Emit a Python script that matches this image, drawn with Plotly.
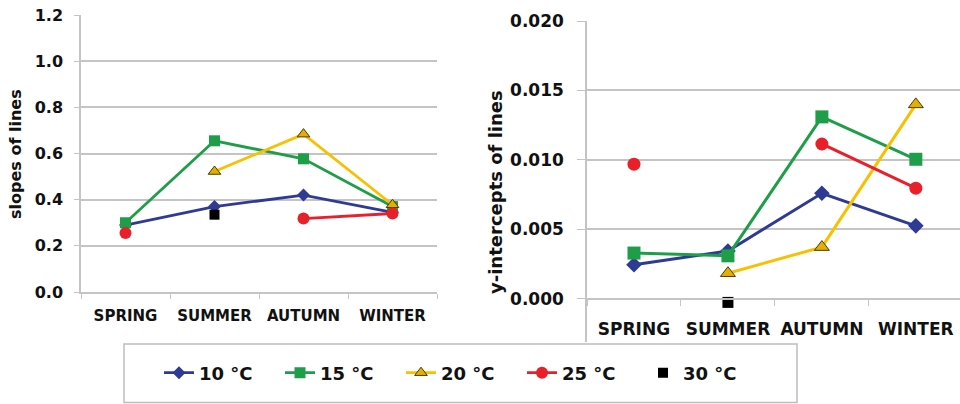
import plotly.graph_objects as go

seasons = ["SPRING", "SUMMER", "AUTUMN", "WINTER"]
series_names = ["10 °C", "15 °C", "20 °C", "25 °C", "30 °C"]

# slopes of lines (left panel)
slope_10 = [0.29, 0.37, 0.42, 0.345]
slope_15 = [0.30, 0.655, 0.577, 0.37]
slope_20 = [None, 0.522, 0.684, 0.378]
slope_25 = [0.256, None, 0.318, 0.34]
slope_30 = [None, 0.335, None, None]

# y-intercepts of lines (right panel)
icpt_10 = [0.00246, 0.00345, 0.0076, 0.00526]
icpt_15 = [0.0033, 0.0031, 0.0131, 0.01005]
icpt_20 = [None, 0.00185, 0.00373, 0.0140]
icpt_25 = [0.0097, None, 0.01115, 0.00797]
icpt_30 = [None, -0.00025, None, None]

colors = ["#2e3a94", "#1f9e4a", "#f7c100", "#e8202a", "#000000"]
symbols = ["diamond", "square", "triangle-up", "circle", "square"]

W, H = 960, 404
FONT = "DejaVu Sans"
GRID = "#c4c4c4"

fig = go.Figure()

left_sets = [slope_10, slope_15, slope_20, slope_25, slope_30]
right_sets = [icpt_10, icpt_15, icpt_20, icpt_25, icpt_30]
msz_l = [10, 11, 11, 12, 10]
msz_r = [12, 13, 13, 13, 11]

for i, name in enumerate(series_names):
    is_tri = symbols[i] == "triangle-up"
    mcol = "#e3af00" if is_tri else colors[i]
    mline = dict(color="#4a3c00", width=1) if is_tri else dict(width=0)
    mode = "markers" if i == 4 else "lines+markers"
    fig.add_trace(go.Scatter(
        x=seasons, y=left_sets[i], name=name, mode=mode,
        line=dict(color=colors[i], width=2.8),
        marker=dict(symbol=symbols[i], size=msz_l[i], color=mcol, line=mline),
        connectgaps=False, xaxis="x", yaxis="y", showlegend=True,
    ))
for i, name in enumerate(series_names):
    is_tri = symbols[i] == "triangle-up"
    mcol = "#e3af00" if is_tri else colors[i]
    mline = dict(color="#4a3c00", width=1) if is_tri else dict(width=0)
    mode = "markers" if i == 4 else "lines+markers"
    fig.add_trace(go.Scatter(
        x=seasons, y=right_sets[i], name=name, mode=mode,
        line=dict(color=colors[i], width=3),
        marker=dict(symbol=symbols[i], size=msz_r[i], color=mcol, line=mline),
        connectgaps=False, xaxis="x2", yaxis="y2", showlegend=False,
    ))

tickfont_l = dict(family=FONT, size=16, color="#111111", weight="bold")
catfont_l = dict(family=FONT, size=15, color="#111111", weight="bold")
tickfont_r = dict(family=FONT, size=17, color="#111111", weight="bold")
catfont_r = dict(family=FONT, size=17, color="#111111", weight="bold")

fig.update_layout(
    width=W, height=H,
    margin=dict(l=0, r=0, t=0, b=0, autoexpand=False),
    paper_bgcolor="white", plot_bgcolor="white",
    showlegend=True,
    xaxis=dict(
        type="category", categoryorder="array", categoryarray=seasons,
        domain=[81 / W, 437 / W], range=[-0.5, 3.5], anchor="y",
        showline=True, linecolor=GRID, linewidth=1.5, automargin=False,
        ticks="outside", tickson="boundaries", ticklen=5, tickcolor=GRID,
        showgrid=False, tickfont=catfont_l, ticklabelstandoff=9,
    ),
    yaxis=dict(
        domain=[(H - 292) / H, (H - 15) / H], range=[0, 1.2], dtick=0.2,
        tickformat=".1f", anchor="x", automargin=False,
        showline=True, linecolor=GRID, linewidth=1.5,
        ticks="outside", ticklen=5, tickcolor=GRID,
        showgrid=True, gridcolor=GRID, gridwidth=1.5, zeroline=False,
        tickfont=tickfont_l, ticklabelstandoff=8,
    ),
    xaxis2=dict(
        type="category", categoryorder="array", categoryarray=seasons,
        domain=[587 / W, 1.0], range=[-0.5, 3.47], anchor="free",
        position=(H - 299) / H, automargin=False,
        showline=True, linecolor=GRID, linewidth=1.5,
        ticks="outside", tickson="boundaries", ticklen=6, tickcolor=GRID,
        showgrid=False, tickfont=catfont_r, ticklabelstandoff=15,
    ),
    yaxis2=dict(
        domain=[(H - 342) / H, (H - 21) / H], range=[-0.0031, 0.020],
        dtick=0.005, tick0=0, tickformat=".3f", anchor="x2", automargin=False,
        showline=True, linecolor=GRID, linewidth=1.5,
        ticks="outside", ticklen=8, tickcolor=GRID,
        showgrid=True, gridcolor=GRID, gridwidth=1.5, zeroline=False,
        tickfont=tickfont_r, ticklabelstandoff=10,
    ),
    legend=dict(
        orientation="h", x=159 / W, xanchor="left",
        y=(H - 373) / H, yanchor="middle",
        font=dict(family=FONT, size=18, color="#111111", weight="bold"),
        entrywidth=76, entrywidthmode="pixels",
        bgcolor="rgba(0,0,0,0)", borderwidth=0,
        itemclick=False,
    ),
    annotations=[
        dict(text="slopes of lines", textangle=-90, x=15 / W, y=(H - 154) / H,
             xref="paper", yref="paper", xanchor="center", yanchor="middle",
             showarrow=False,
             font=dict(family=FONT, size=16, color="#111111", weight="bold")),
        dict(text="y-intercepts of lines", textangle=-90, x=495 / W, y=(H - 192) / H,
             xref="paper", yref="paper", xanchor="center", yanchor="middle",
             showarrow=False,
             font=dict(family=FONT, size=18, color="#111111", weight="bold")),
    ],
    shapes=[
        dict(type="rect", xref="paper", yref="paper",
             x0=124 / W, x1=797 / W, y0=1.5 / H, y1=(H - 344) / H,
             line=dict(color="#bdbdbd", width=1.5), fillcolor="rgba(0,0,0,0)"),
    ],
)

fig.write_html(
    "out.html",
    config={"displayModeBar": False},
    post_script="document.body.style.margin='0';document.body.style.padding='0';",
)
